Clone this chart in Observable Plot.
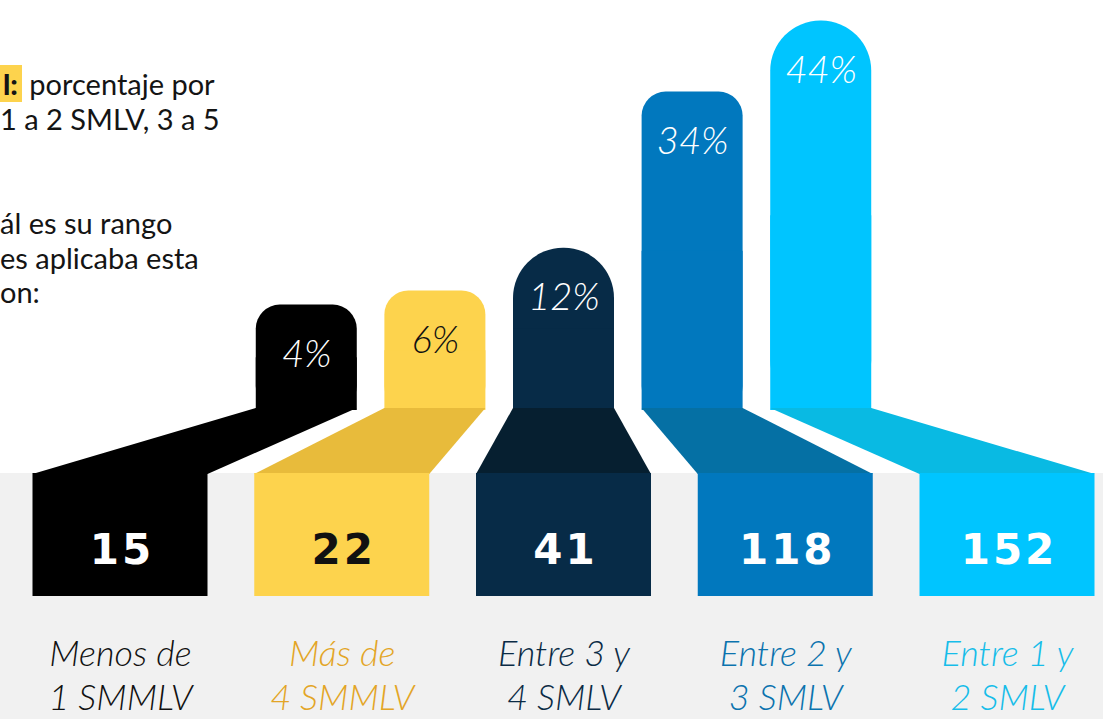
<!DOCTYPE html>
<html>
<head>
<meta charset="utf-8">
<script src="https://cdn.jsdelivr.net/npm/d3@7"></script>
<script src="https://cdn.jsdelivr.net/npm/@observablehq/plot@0.6"></script>
<style>
  html, body { margin: 0; padding: 0; background: #ffffff; }
  #wrap { position: relative; width: 1103px; height: 719px; overflow: hidden; }
  #chart { position: absolute; left: 0; top: 0; }
  #intro {
    position: absolute; left: 0; top: 67px;
    font-family: Lato, "Open Sans", sans-serif; font-size: 29px; line-height: 34.7px;
    color: #141414; white-space: pre;
  }
  #intro .hl { background: #fdd34d; font-weight: 900; padding: 1px 4px 1px 3px; }
</style>
</head>
<body>
<div id="wrap">
  <div id="chart"></div>
  <div id="intro"></div>
</div>
<script>
// ---------------- data ----------------
const categories = ["Menos de 1 SMMLV", "Más de 4 SMMLV", "Entre 3 y 4 SMLV", "Entre 2 y 3 SMLV", "Entre 1 y 2 SMLV"];
const labelLines = [["Menos de", "1 SMMLV"], ["Más de", "4 SMMLV"], ["Entre 3 y", "4 SMLV"], ["Entre 2 y", "3 SMLV"], ["Entre 1 y", "2 SMLV"]];
const percentages = [4, 6, 12, 34, 44];
const counts = [15, 22, 41, 118, 152];
const introHighlight = "l:";
const introLines = [" porcentaje por", "1 a 2 SMLV, 3 a 5", "", "", "ál es su rango", "es aplicaba esta", "on:"];

// ---------------- styles ----------------
const barColors   = ["#000000", "#fdd34d", "#072b47", "#0178be", "#00c5ff"];
const neckColors  = ["#000000", "#e8bb3b", "#061f30", "#0570a4", "#09bae3"];
const labelColors = ["#111111", "#e3a526", "#0b2b45", "#0b73ae", "#16bde9"];
const onBarText   = ["#ffffff", "#111111", "#ffffff", "#ffffff", "#ffffff"];
const bigRound    = [false, false, true, false, true];

// ---------------- layout ----------------
const W = 1103, H = 719;
const BLOCK_C0 = 120, BLOCK_PITCH = 221.75;       // px
const BLOCK_HALF = 87.5 / BLOCK_PITCH;             // x units
const UPPER_SPREAD = 0.58, UPPER_HALF = 50.5 / BLOCK_PITCH, MID = 2;
const ux = i => MID + (i - MID) * UPPER_SPREAD;
const ZERO_PX = 333, PX_PER_PCT = 7.1;             // y scale geometry
const lv = px => (ZERO_PX - px) / PX_PER_PCT;      // layout level -> y units
const BAR_FLOOR = lv(410), NECK_TOP = lv(408), NECK_BOTTOM = lv(474);
const BLOCK_TOP = lv(473), BLOCK_BOTTOM = lv(596);

const rows = categories.map((c, i) => ({
  i, cat: c, pct: percentages[i], count: counts[i], label: labelLines[i].join("\n")
}));
const neck = rows.flatMap(d => [
  {i: d.i, y: NECK_TOP, x1: ux(d.i) - UPPER_HALF, x2: ux(d.i) + UPPER_HALF},
  {i: d.i, y: NECK_BOTTOM, x1: d.i - BLOCK_HALF, x2: d.i + BLOCK_HALF}
]);

const barX1 = d => ux(d.i) - UPPER_HALF, barX2 = d => ux(d.i) + UPPER_HALF;
const fillBar = d => barColors[d.i];

const chart = Plot.plot({
  width: W, height: H,
  marginTop: 0, marginRight: 0, marginBottom: 0, marginLeft: 0,
  x: {domain: [-0.5, 4.5], range: [BLOCK_C0 - 0.5 * BLOCK_PITCH, BLOCK_C0 + 4.5 * BLOCK_PITCH], axis: null},
  y: {domain: [lv(H), lv(0)], axis: null},
  color: {type: "identity"},
  style: {background: "transparent", overflow: "visible"},
  marks: [
    // grey floor
    Plot.rect([0], {x1: -0.7, x2: 4.7, y1: lv(H), y2: BLOCK_TOP, fill: "#f1f1f1"}),
    // percentage bars (rounded top + square bottom)
    Plot.rect(rows.filter(d => !bigRound[d.i]), {x1: barX1, x2: barX2, y1: BAR_FLOOR, y2: "pct", fill: fillBar, rx: 24}),
    Plot.rect(rows.filter(d => bigRound[d.i]), {x1: barX1, x2: barX2, y1: BAR_FLOOR, y2: "pct", fill: fillBar, rx: 50}),
    Plot.rect(rows, {x1: barX1, x2: barX2, y1: BAR_FLOOR, y2: d => (BAR_FLOOR + d.pct) / 2, fill: fillBar}),
    // connectors
    Plot.areaX(neck, {y: "y", x1: "x1", x2: "x2", z: "i", fill: d => neckColors[d.i]}),
    // count blocks
    Plot.rect(rows, {x1: d => d.i - BLOCK_HALF, x2: d => d.i + BLOCK_HALF, y1: BLOCK_BOTTOM, y2: BLOCK_TOP, fill: fillBar}),
    // count labels
    Plot.text(rows, {x: "i", y: lv(550), text: d => String(d.count), fill: d => onBarText[d.i],
      fontSize: 42, fontWeight: "bold", fontFamily: "'DejaVu Sans', sans-serif", dx: 1.5}),
    // percentage labels
    Plot.text(rows, {x: d => ux(d.i), y: "pct", dy: 50, text: d => d.pct + "%", fill: d => onBarText[d.i],
      fontSize: 38, fontStyle: "italic", fontWeight: 300, fontFamily: "Lato, sans-serif"}),
    // category labels
    Plot.text(rows, {x: "i", y: lv(635.2), text: "label", lineAnchor: "top", lineHeight: 1.2,
      fill: d => labelColors[d.i], fontSize: 36, fontStyle: "italic", fontWeight: 300, fontFamily: "Lato, sans-serif"})
  ]
});

const countStrings = counts.map(String);
d3.select(chart).selectAll("text")
  .filter(function() { return countStrings.includes(this.textContent); })
  .style("letter-spacing", "3px");

document.getElementById("chart").appendChild(chart);

const intro = document.getElementById("intro");
const first = document.createElement("div");
const hl = document.createElement("span");
hl.className = "hl"; hl.textContent = introHighlight;
first.appendChild(hl);
first.appendChild(document.createTextNode(introLines[0]));
intro.appendChild(first);
introLines.slice(1).forEach(t => {
  const div = document.createElement("div");
  div.textContent = t || "\u00a0";
  intro.appendChild(div);
});
</script>
</body>
</html>
